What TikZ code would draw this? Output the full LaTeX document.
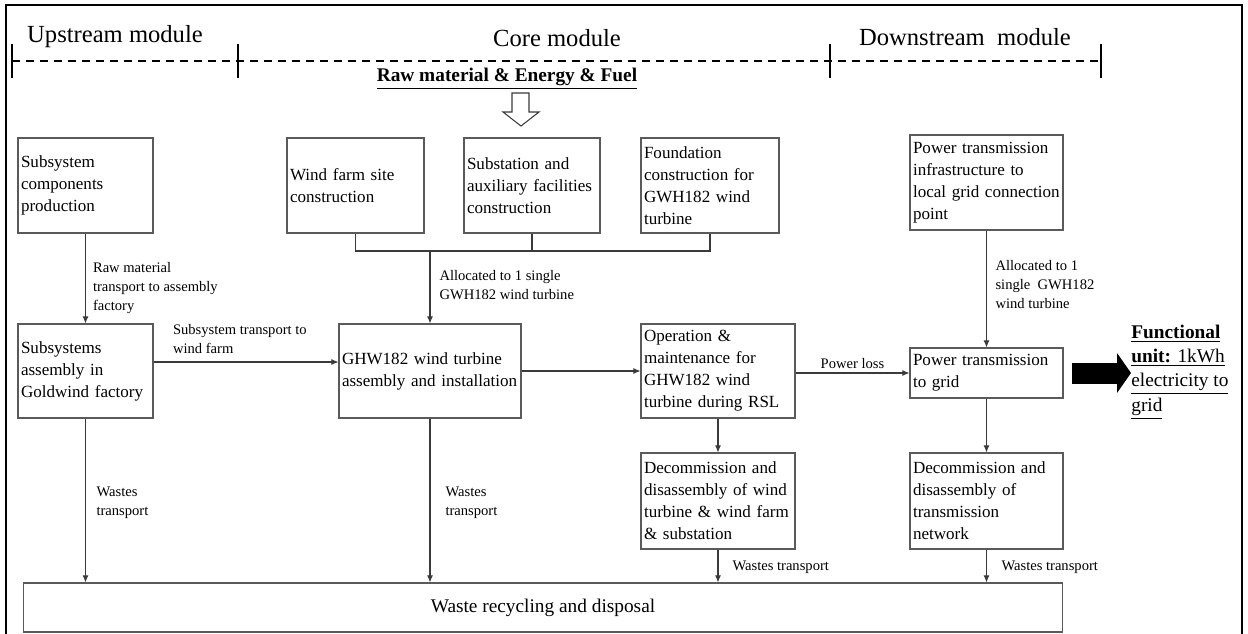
\documentclass[tikz,border=0pt]{standalone}
\usepackage{fontspec}
\setmainfont{Liberation Serif}
\usetikzlibrary{arrows.meta, positioning}

\definecolor{boxgray}{HTML}{5A5A5A}
\definecolor{linegray}{HTML}{3A3A3A}

\newcommand{\boxfont}{\fontsize{9.7}{12.5}\selectfont}
\newcommand{\lblfont}{\fontsize{8.3}{10.8}\selectfont}

\begin{document}
\begin{tikzpicture}[x=0.02cm, y=-0.02cm,
    blk/.style={draw=boxgray, line width=0.6pt, align=left, inner xsep=0.06cm, inner ysep=0pt, font=\boxfont},
    lbl/.style={font=\lblfont, inner sep=0pt, text=black},
    hdr/.style={font=\fontsize{14}{16}\selectfont, inner sep=0pt},
    flow/.style={color=linegray, line width=0.6pt, -{Latex[length=4pt,width=3.4pt]}},
    link/.style={draw=linegray, line width=0.6pt},
    fat/.style={line width=0.42cm, -{Triangle[length=0.28cm,width=0.8cm,line width=0pt]}, shorten <=0.16cm}]

  \useasboundingbox (0,0) rectangle (1248,633);
  \draw[line width=1.2pt] (6,5) rectangle (1242,645);

  % module header
  \node[hdr] (up) at (115,37) {Upstream module};
  \node[hdr] (core) at (557,38) {Core module};
  \node[hdr] (down) at (965,37) {Downstream~~module};
  \draw[line width=1.1pt, dash pattern=on 0.16cm off 0.12cm] (12,61) -- (1101,61);
  \foreach \x in {12,238,830,1101}
    \draw[line width=1.4pt] (\x,44) -- (\x,78);

  \node[font=\fontsize{11}{13}\selectfont\bfseries, inner sep=0pt] (raw) at (507,79)
    {\underline{Raw material \& Energy \& Fuel}};
  \draw[link, fill=white] (512,93) -- (529,93) -- (529,112) -- (539,112) -- (521,126)
    -- (503,112) -- (512,112) -- cycle;

  % top row
  \node[blk, text width=2.58cm, minimum height=1.9cm] (scp) at (85.5,185.5)
    {Subsystem\\components\\production};
  \node[blk, text width=2.62cm, minimum height=1.9cm] (wfs) at (355.5,185.5)
    {Wind farm site\\construction};
  \node[blk, text width=2.60cm, minimum height=1.9cm] (sub) at (532,185.5)
    {Substation and\\auxiliary facilities\\construction};
  \node[blk, text width=2.64cm, minimum height=1.9cm] (fnd) at (710,185.5)
    {Foundation\\construction for\\GWH182 wind\\turbine};
  \node[blk, text width=2.94cm, minimum height=1.9cm] (pti) at (986.5,182.5)
    {Power transmission\\infrastructure to\\local grid connection\\point};

  % middle row
  \node[blk, text width=2.58cm, minimum height=1.88cm] (sag) at (85.5,371)
    {Subsystems\\assembly in\\Goldwind factory};
  \node[blk, text width=3.52cm, minimum height=1.88cm] (ghw) at (430,371)
    {GHW182 wind turbine\\assembly and installation};
  \node[blk, text width=2.96cm, minimum height=1.88cm] (om) at (718,371)
    {Operation \&\\maintenance for\\GHW182 wind\\turbine during RSL};
  \node[blk, text width=2.94cm, minimum height=1.0cm] (ptg) at (986.5,373)
    {Power transmission\\to grid};
  \node[font=\fontsize{11}{13.8}\selectfont, align=left, inner sep=0pt, anchor=west] (fu) at (1131,372)
    {\textbf{\underline{Functional}}\\\underline{\textbf{unit:} 1kWh}\\\underline{electricity to}\\\underline{grid}};

  % end of life
  \node[blk, text width=2.96cm, minimum height=1.92cm] (dwf) at (718,501)
    {Decommission and\\disassembly of wind\\turbine \& wind farm\\\& substation};
  \node[blk, text width=2.94cm, minimum height=1.92cm] (dtn) at (986.5,501)
    {Decommission and\\disassembly of\\transmission\\network};
  \node[blk, font=\fontsize{11}{13}\selectfont, minimum width=20.8cm, minimum height=0.98cm] (wrd) at (543,607.5)
    {Waste recycling and disposal};

  \coordinate (jn) at (430,251);
  \draw[link] (wfs.south) |- (jn) -| (fnd.south);
  \draw[link] (sub.south) -- (sub.south |- jn);

  \path[flow]
  (scp) edge node[lbl, right=0.14cm, pos=0.6] {
          \begin{tabular}{@{}l@{}}
            Raw material\\
            transport to assembly\\
            factory
          \end{tabular}
        } (sag)
  ([yshift=0.18cm]sag.east) edge node[lbl, pos=0, anchor=south west, xshift=0.38cm, yshift=0.05cm] {
          \begin{tabular}{@{}l@{}}
            Subsystem transport to\\
            wind farm
          \end{tabular}
        } ([yshift=0.18cm]sag.east -| ghw.west)
  (jn) edge node[lbl, right=0.18cm, pos=0.49] {
          \begin{tabular}{@{}l@{}}
            Allocated to 1 single\\
            GWH182 wind turbine
          \end{tabular}
        } (ghw)
  (ghw) edge (om)
  (om.east |- ptg) edge node[lbl, above=0.07cm, midway] {Power loss} (ptg)
  (pti) edge node[lbl, right=0.17cm, pos=0.47] {
          \begin{tabular}{@{}l@{}}
            Allocated to 1\\
            single~~GWH182\\
            wind turbine
          \end{tabular}
        } (ptg)
  (om) edge (dwf)
  (ptg) edge (dtn);

  \path[flow]
  (sag) edge node[lbl, right=0.21cm, pos=0.51] {
          \begin{tabular}{@{}l@{}}
            Wastes\\
            transport
          \end{tabular}
        } (sag |- wrd.north)
  (ghw) edge node[lbl, right=0.3cm, pos=0.51] {
          \begin{tabular}{@{}l@{}}
            Wastes\\
            transport
          \end{tabular}
        } (ghw |- wrd.north)
  (dwf) edge node[lbl, right=0.28cm, pos=0.53] {Wastes transport} (dwf |- wrd.north)
  (dtn) edge node[lbl, right=0.29cm, pos=0.53] {Wastes transport} (dtn |- wrd.north);

  \draw[fat] (ptg.east) -- (ptg.east -| fu.west);
\end{tikzpicture}
\end{document}
